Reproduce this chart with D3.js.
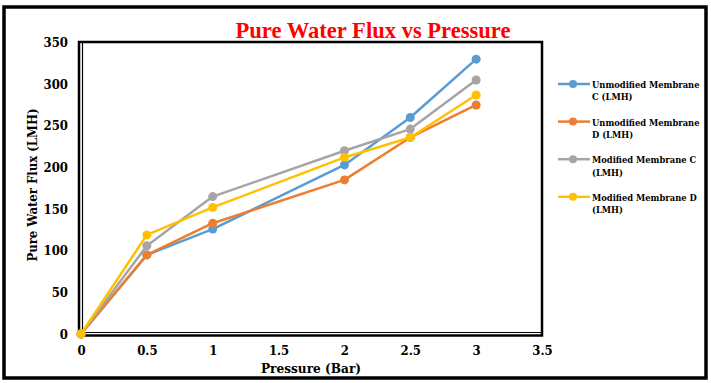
<!DOCTYPE html>
<html><head><meta charset="utf-8">
<script src="https://cdn.jsdelivr.net/npm/d3@7"></script>
<style>body{margin:0;background:#fff}svg{display:block}</style>
</head><body>
<script>
const pressure = [0, 0.5, 1, 2, 2.5, 3];
const unmodC = [0, 95, 126, 203, 260, 330];
const unmodD = [0, 95, 133, 185, 236, 275];
const modC = [0, 106, 165, 220, 246, 305];
const modD = [0, 119, 152, 212, 236, 287];
const seriesNames = [["Unmodified Membrane", "C (LMH)"], ["Unmodified Membrane", "D (LMH)"], ["Modified Membrane C", "(LMH)"], ["Modified Membrane D", "(LMH)"]];
const colors = ["#5B9BD5", "#ED7D31", "#A5A5A5", "#FFC000"];
const xTicks = [0, 0.5, 1, 1.5, 2, 2.5, 3, 3.5];
const yTicks = [0, 50, 100, 150, 200, 250, 300, 350];
const seriesValues = [unmodC, unmodD, modC, modD];

const W = 711, H = 383;
const svg = d3.select("body").append("svg").attr("width", W).attr("height", H);
const font = "'DejaVu Serif Condensed', 'Liberation Serif', serif";

// outer border
svg.append("rect").attr("x", 4).attr("y", 7).attr("width", 702).attr("height", 371)
  .attr("fill", "#fff").attr("stroke", "#000").attr("stroke-width", 3.5);

const x = d3.scaleLinear().domain([0, 3.5]).range([81, 542]);
const y = d3.scaleLinear().domain([0, 350]).range([334, 42.5]);

// plot frame
svg.append("rect").attr("x", 79).attr("y", 42).attr("width", 463).attr("height", 293.5)
  .attr("fill", "none").attr("stroke", "#000").attr("stroke-width", 2.5);
svg.append("line").attr("x1", 82.5).attr("x2", 82.5).attr("y1", 43).attr("y2", 333)
  .attr("stroke", "#000").attr("stroke-width", 1.2);
svg.append("line").attr("x1", 82).attr("x2", 541).attr("y1", 332.5).attr("y2", 332.5)
  .attr("stroke", "#000").attr("stroke-width", 1.2);

// title
svg.append("text").attr("x", 373).attr("y", 38).attr("text-anchor", "middle")
  .attr("font-family", "'Liberation Serif', serif").attr("font-weight", "bold").attr("font-size", 24)
  .attr("fill", "#FF0000").attr("textLength", 275).attr("lengthAdjust", "spacingAndGlyphs")
  .text("Pure Water Flux vs Pressure");

// axes
const xAxis = svg.append("g").attr("transform", "translate(0,346)")
  .call(d3.axisBottom(x).tickValues(xTicks).tickSize(0).tickFormat(d3.format("")));
xAxis.select(".domain").remove();
xAxis.selectAll("text").attr("font-family", font).attr("font-weight", "bold")
  .attr("font-size", 13).attr("fill", "#000").attr("dy", "0.71em").attr("y", 0);

const yAxis = svg.append("g").attr("transform", "translate(68,0)")
  .call(d3.axisLeft(y).tickValues(yTicks).tickSize(0));
yAxis.select(".domain").remove();
yAxis.selectAll("text").attr("font-family", font).attr("font-weight", "bold")
  .attr("font-size", 13).attr("fill", "#000").attr("x", 0);

svg.append("text").attr("x", 311).attr("y", 373).attr("text-anchor", "middle")
  .attr("font-family", font).attr("font-weight", "bold").attr("font-size", 13.5)
  .text("Pressure (Bar)");
svg.append("text").attr("transform", "translate(37,185) rotate(-90)").attr("text-anchor", "middle")
  .attr("font-family", font).attr("font-weight", "bold").attr("font-size", 13)
  .text("Pure Water Flux (LMH)");

// lines
const line = d3.line().x((d, i) => x(pressure[i])).y(d => y(d));
seriesValues.forEach((vals, s) => {
  svg.append("path").datum(vals).attr("d", line).attr("fill", "none")
    .attr("stroke", colors[s]).attr("stroke-width", 2.5).attr("stroke-linejoin", "round");
  svg.selectAll(null).data(vals).enter().append("circle")
    .attr("cx", (d, i) => x(pressure[i])).attr("cy", d => y(d)).attr("r", 4.5)
    .attr("fill", colors[s]);
});

// legend
svg.append("clipPath").attr("id", "lc").append("rect")
  .attr("x", 550).attr("y", 60).attr("width", 154).attr("height", 170);
const lg = svg.append("g").attr("clip-path", "url(#lc)");
seriesNames.forEach((nm, s) => {
  const yy = 84 + s * 37.6;
  lg.append("line").attr("x1", 558).attr("x2", 590).attr("y1", yy).attr("y2", yy)
    .attr("stroke", colors[s]).attr("stroke-width", 2.5);
  lg.append("circle").attr("cx", 573).attr("cy", yy).attr("r", 4).attr("fill", colors[s]);
  nm.forEach((t, k) => {
    lg.append("text").attr("x", 592).attr("y", yy + 4 + k * 12.3)
      .attr("font-family", font).attr("font-weight", "bold").attr("font-size", 9.3)
      .attr("fill", "#000").text(t);
  });
});
</script>
</body></html>
